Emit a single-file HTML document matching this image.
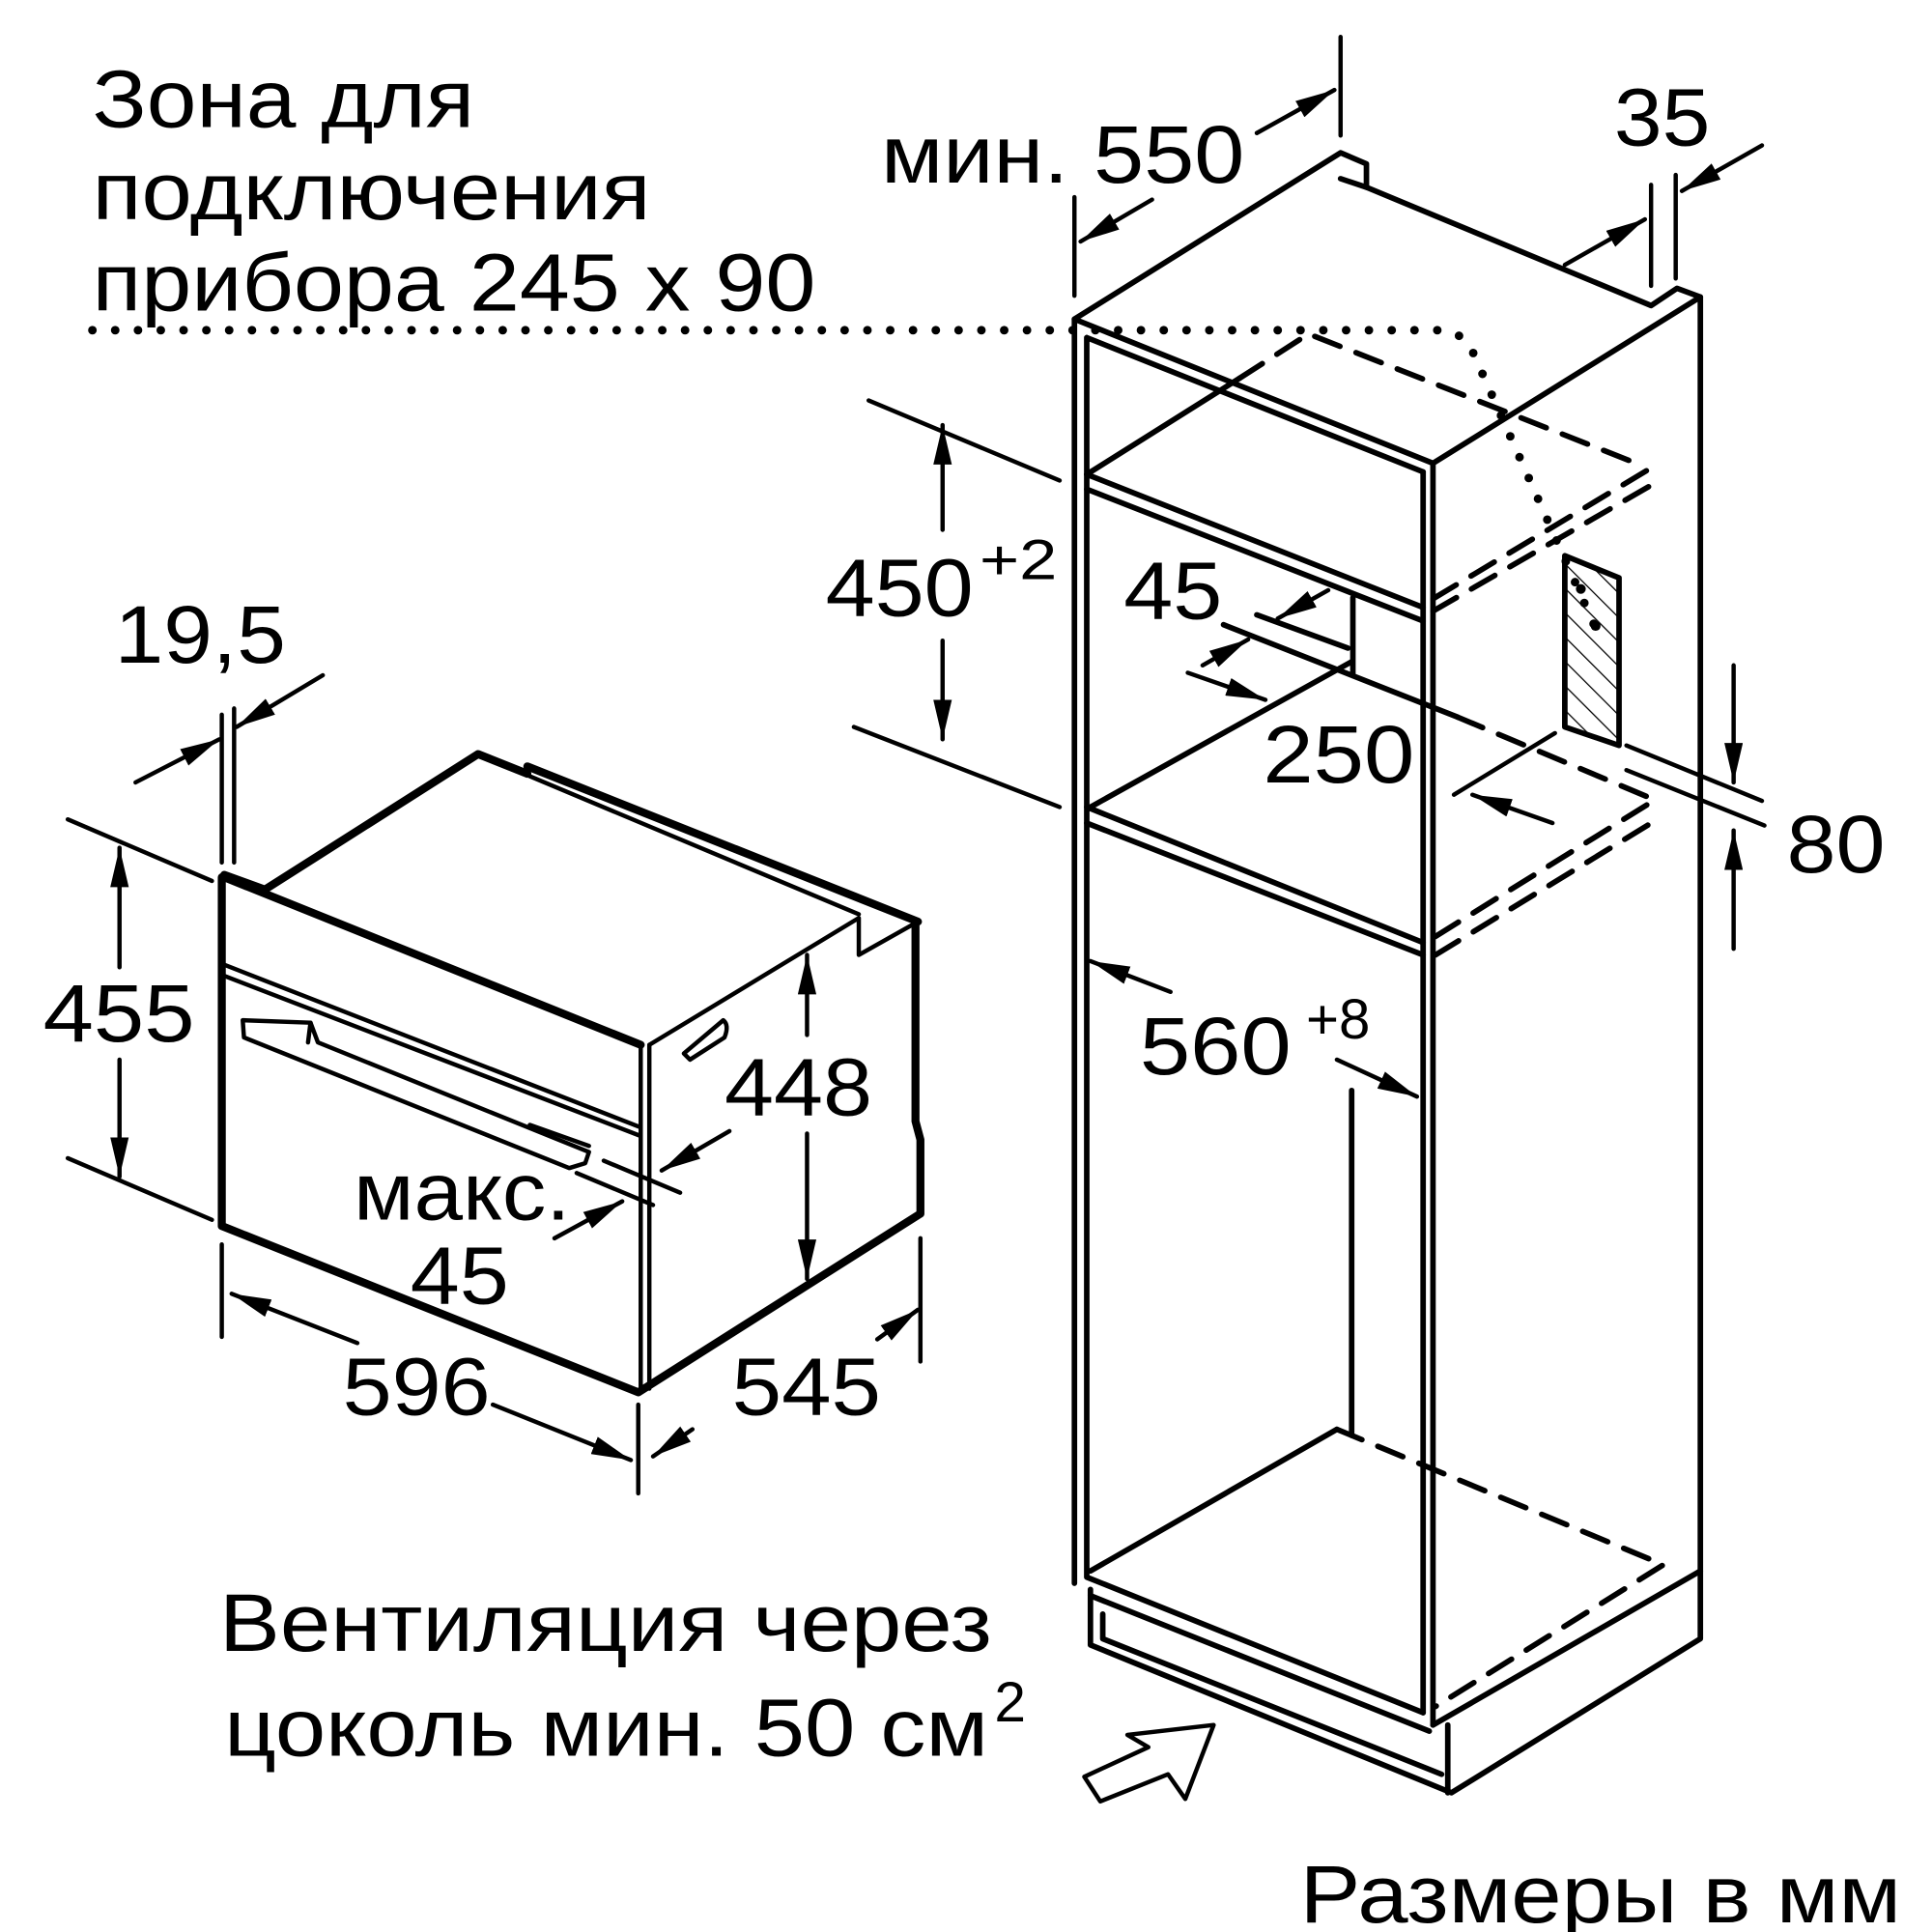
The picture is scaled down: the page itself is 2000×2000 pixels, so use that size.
<!DOCTYPE html>
<html><head><meta charset="utf-8"><style>
html,body{margin:0;padding:0;background:#fff}
svg{display:block}
text{font-family:"Liberation Sans",sans-serif;fill:#000}
</style></head><body>
<svg width="2000" height="2000" viewBox="0 0 1568 1568" xmlns="http://www.w3.org/2000/svg">
<defs>
<marker id="ah" viewBox="0 0 10 10" refX="10" refY="5" markerWidth="32" markerHeight="15" markerUnits="userSpaceOnUse" orient="auto" preserveAspectRatio="none"><path d="M0,0 L10,5 L0,10 Z" fill="#000"/></marker>
<pattern id="hatch" width="14" height="14" patternUnits="userSpaceOnUse" patternTransform="rotate(-45)"><line x1="0" y1="0" x2="0" y2="14" stroke="#000" stroke-width="2"/></pattern>
</defs>
<g font-size="66">
<text x="75" y="103" textLength="310" lengthAdjust="spacingAndGlyphs">Зона для</text>
<text x="75" y="178" textLength="453" lengthAdjust="spacingAndGlyphs">подключения</text>
<text x="75" y="252" textLength="587" lengthAdjust="spacingAndGlyphs">прибора 245 x 90</text>
<text x="715" y="148" textLength="295" lengthAdjust="spacingAndGlyphs">мин. 550</text>
<text x="1310" y="118" textLength="78" lengthAdjust="spacingAndGlyphs">35</text>
<text x="670" y="500" textLength="120" lengthAdjust="spacingAndGlyphs">450</text><text x="795" y="470" font-size="46" textLength="63" lengthAdjust="spacingAndGlyphs">+2</text>
<text x="912" y="502" textLength="80" lengthAdjust="spacingAndGlyphs">45</text>
<text x="1025" y="635" textLength="123" lengthAdjust="spacingAndGlyphs">250</text>
<text x="1450" y="708" textLength="80" lengthAdjust="spacingAndGlyphs">80</text>
<text x="925" y="872" textLength="123" lengthAdjust="spacingAndGlyphs">560</text><text x="1060" y="843" font-size="46" textLength="52" lengthAdjust="spacingAndGlyphs">+8</text>
<text x="93" y="538" textLength="139" lengthAdjust="spacingAndGlyphs">19,5</text>
<text x="35" y="845" textLength="123" lengthAdjust="spacingAndGlyphs">455</text>
<text x="588" y="905" textLength="120" lengthAdjust="spacingAndGlyphs">448</text>
<text x="287" y="990" textLength="176" lengthAdjust="spacingAndGlyphs">макс.</text>
<text x="333" y="1058" textLength="80" lengthAdjust="spacingAndGlyphs">45</text>
<text x="278" y="1148" textLength="120" lengthAdjust="spacingAndGlyphs">596</text>
<text x="594" y="1148" textLength="121" lengthAdjust="spacingAndGlyphs">545</text>
<text x="178" y="1340" textLength="627" lengthAdjust="spacingAndGlyphs">Вентиляция через</text>
<text x="182" y="1425" textLength="620" lengthAdjust="spacingAndGlyphs">цоколь мин. 50 см</text><text x="807" y="1397" font-size="46">2</text>
<text x="1055" y="1560" textLength="488" lengthAdjust="spacingAndGlyphs">Размеры в мм</text>
</g>

<path d="M75,268 L1172,268 Q1190,272 1195,285 L1295,510" fill="none" stroke="#000" stroke-width="7" stroke-linecap="round" stroke-dasharray="0 18.5"/>

<g fill="none" stroke="#000" stroke-linejoin="round" stroke-linecap="round">
<g stroke-width="6.5">
<path d="M215,722 L388,612 L428,628"/>
<path d="M428,622 L745,748"/>
<path d="M182,712 L520,848"/>
<path d="M180,712 L180,995 L518,1130 L747,985 L747,925 L743,910 L743,748"/>
<path d="M182,710 L215,722"/>
</g>
<g stroke-width="3.5">
<path d="M430,630 L697,742"/>
<path d="M520,848 L520,1130 M527,848 L527,1127"/>
<path d="M182,783 L520,915 M182,792 L520,922"/>
<path d="M527,848 L697,745 L697,775 L745,748"/>
<path d="M197,828 L252,830 L258,846 L478,935 L475,944 L462,948 L198,842 Z"/>
<path d="M430,913 L478,930 M252,830 L250,846"/>
<path d="M555,855 L587,828 Q592,832 588,842 L560,860 Z"/>
<path d="M180,580 L180,700 M190,575 L190,700"/>
<path d="M110,635 L178,600" marker-end="url(#ah)"/>
<path d="M262,548 L192,590" marker-end="url(#ah)"/>
<path d="M55,665 L172,715 M55,940 L172,990"/>
<path d="M97,785 L97,688" marker-end="url(#ah)"/>
<path d="M97,860 L97,955" marker-end="url(#ah)"/>
<path d="M655,840 L655,775" marker-end="url(#ah)"/>
<path d="M655,920 L655,1038" marker-end="url(#ah)"/>
<path d="M490,942 L552,968 M468,952 L530,978"/>
<path d="M592,918 L537,950" marker-end="url(#ah)"/>
<path d="M450,1005 L505,975" marker-end="url(#ah)"/>
<path d="M180,1010 L180,1085 M518,1140 L518,1212"/>
<path d="M290,1090 L188,1050" marker-end="url(#ah)"/>
<path d="M400,1140 L512,1185" marker-end="url(#ah)"/>
<path d="M747,1005 L747,1105"/>
<path d="M562,1160 L530,1182" marker-end="url(#ah)"/>
<path d="M712,1087 L745,1063" marker-end="url(#ah)"/>
</g>
</g>

<g fill="none" stroke="#000" stroke-width="4.5" stroke-linejoin="round" stroke-linecap="round">
<path d="M872,1285 L872,259 L1088,124 L1109,133 L1109,152 L1088,145"/>
<path d="M1109,152 L1340,248 L1361,234 L1380,241 L1163,376 L872,259"/>
<path d="M1380,241 L1380,1330 L1178,1455 L885,1335 L885,1290"/>
<path d="M1163,376 L1163,1400 M1155,383 L1155,1390"/>
<path d="M882,274 L1155,383 M882,274 L882,1280 L1155,1390"/>
<path d="M882,385 L1155,493 M882,397 L1155,504"/>
<path d="M882,385 L1006,307"/>
<path d="M882,655 L1155,765 M882,668 L1155,775"/>
<path d="M885,655 L1097,537 M1098,485 L1098,547"/>
<path d="M1097,885 L1097,1165 M885,1275 L1085,1160"/>
<path d="M885,1295 L1160,1405 M895,1310 L895,1330 L1170,1440 M1175,1400 L1175,1455"/>
<path d="M1163,1400 L1380,1275"/>
<path d="M1020,499 L1094,526 M993,507 L1183,582"/>
<g stroke-dasharray="22 14">
<path d="M1006,307 L1062,271 L1328,376"/>
<path d="M1163,486 L1338,381 M1163,496 L1338,395"/>
<path d="M1183,582 L1345,650"/>
<path d="M1165,760 L1345,648 M1165,775 L1345,665"/>
<path d="M1085,1160 L1350,1270 L1165,1385"/>
</g>
<path d="M1270,451 L1314,469 L1314,605 L1270,590 Z" fill="url(#hatch)"/>
<g stroke-width="3.5">
<path d="M872,160 L872,240 M1088,30 L1088,110"/>
<path d="M935,162 L877,196" marker-end="url(#ah)"/>
<path d="M1020,108 L1083,73" marker-end="url(#ah)"/>
<path d="M1340,150 L1340,232 M1360,142 L1360,226"/>
<path d="M1270,215 L1335,178" marker-end="url(#ah)"/>
<path d="M1430,118 L1365,155" marker-end="url(#ah)"/>
<path d="M705,325 L860,390 M693,590 L860,655"/>
<path d="M765,430 L765,345" marker-end="url(#ah)"/>
<path d="M765,520 L765,600" marker-end="url(#ah)"/>
<path d="M1078,479 L1037,502" marker-end="url(#ah)"/>
<path d="M976,540 L1013,519" marker-end="url(#ah)"/>
<path d="M964,546 L1027,568" marker-end="url(#ah)"/>
<path d="M1180,645 L1262,595"/>
<path d="M1260,668 L1195,645" marker-end="url(#ah)"/>
<path d="M1320,605 L1430,650 M1320,625 L1432,670"/>
<path d="M1407,540 L1407,635" marker-end="url(#ah)"/>
<path d="M1407,770 L1407,674" marker-end="url(#ah)"/>
<path d="M950,805 L885,780" marker-end="url(#ah)"/>
<path d="M1085,860 L1150,890" marker-end="url(#ah)"/>
<path d="M880,1442 L932,1418 L915,1408 L985,1400 L962,1460 L948,1440 L893,1462 Z"/>
</g>
</g>
<g fill="#000">
<circle cx="1283" cy="478" r="4"/><circle cx="1295" cy="508" r="4"/>
</g>
</svg>
</body></html>
